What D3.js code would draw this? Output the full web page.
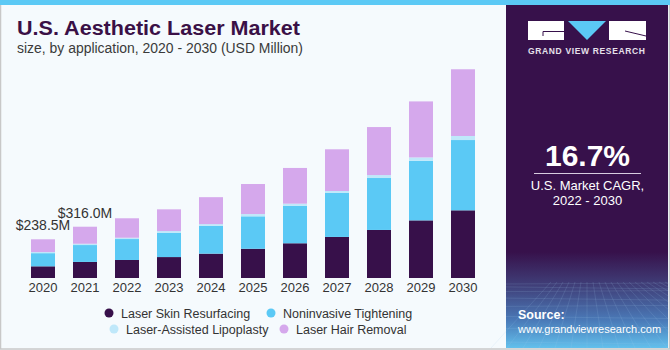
<!DOCTYPE html>
<html lang="en">
<head>
    <meta charset="UTF-8">
    <script src="https://d3js.org/d3.v7.min.js"></script>
    <style>
        body{ margin:0; }
        svg{ display:block; font-family:"Liberation Sans", Arial, sans-serif; }
    </style>
    <title>U.S. Aesthetic Laser Market</title>
</head>
<body>
    <div class="canvas"></div>
</body>
<script>
    // values (USD Million)
    const years = ['2020','2021','2022','2023','2024','2025','2026','2027','2028','2029','2030'];
    const skinResurfacing = [72, 99, 111, 129, 150, 180, 214, 253, 296, 355, 417];
    const noninvasiveTightening = [81, 104, 129, 150, 172, 200, 230, 271, 320, 367, 433];
    const lipoplasty = [7, 8, 8, 10, 10, 14, 14, 12, 18, 21, 25];
    const hairRemoval = [78.5, 105, 120, 134, 166, 185, 220, 257, 296, 345, 411];
    const seriesNames = ['Laser Skin Resurfacing','Noninvasive Tightening','Laser-Assisted Lipoplasty','Laser Hair Removal'];
    const callouts = [['2020','$238.5M'],['2021','$316.0M']];

    const width = 670;
    const height = 350;
    const colors = ['#37104a','#5bc9f5','#bfe8fa','#d5a8ec'];

    const svg = d3.select('.canvas')
                    .append('svg')
                    .attr('width',width)
                    .attr('height',height);

    // background + border
    svg.append('rect').attr('width',width).attr('height',height).attr('fill','#f5fafd');
    svg.append('rect').attr('x',0.5).attr('y',0.5).attr('width',width-1).attr('height',height-1.5)
        .attr('fill','none').attr('stroke','#c8c8c8').attr('stroke-width',1.5);
    svg.append('rect').attr('width',width).attr('height',5).attr('fill','#5bc9f5');

    // titles
    svg.append('text').attr('x',17).attr('y',35)
        .attr('font-size','20px').attr('font-weight','bold').attr('fill','#3a1046')
        .attr('textLength',283).attr('lengthAdjust','spacingAndGlyphs')
        .text('U.S. Aesthetic Laser Market');
    svg.append('text').attr('x',17).attr('y',53)
        .attr('font-size','14px').attr('fill','#3a3a3a')
        .attr('textLength',286).attr('lengthAdjust','spacingAndGlyphs')
        .text('size, by application, 2020 - 2030 (USD Million)');

    // chart
    const rows = years.map((yr,i)=>({
        year: yr,
        [seriesNames[0]]: skinResurfacing[i],
        [seriesNames[1]]: noninvasiveTightening[i],
        [seriesNames[2]]: lipoplasty[i],
        [seriesNames[3]]: hairRemoval[i]
    }));
    const stacked = d3.stack().keys(seriesNames)(rows);

    const x = d3.scaleBand()
                .domain(years)
                .range([22,484])
                .paddingInner(18/42)
                .paddingOuter(9/42);
    const y = d3.scaleLinear()
                .domain([0,1300])
                .range([278,67]);

    const layers = svg.append('g').selectAll('g')
                    .data(stacked)
                    .enter()
                    .append('g')
                    .attr('fill',(d,i)=>colors[i]);
    layers.selectAll('rect')
        .data(d=>d)
        .enter()
        .append('rect')
        .attr('x',d=>x(d.data.year))
        .attr('y',d=>y(d[1]))
        .attr('width',x.bandwidth())
        .attr('height',d=>y(d[0])-y(d[1]));

    const xAxisG = svg.append('g').attr('transform','translate(0,278)');
    xAxisG.call(d3.axisBottom(x).tickSize(0).tickPadding(5));
    xAxisG.select('.domain').remove();
    xAxisG.selectAll('text')
        .attr('font-size','13px')
        .attr('font-family','"Liberation Sans", Arial, sans-serif')
        .attr('fill','#333');

    // value call-outs
    const totals = rows.map(r=>d3.sum(seriesNames,k=>r[k]));
    svg.selectAll('.callout')
        .data(callouts)
        .enter()
        .append('text')
        .attr('class','callout')
        .attr('x',d=>x(d[0])+x.bandwidth()/2)
        .attr('y',d=>y(totals[years.indexOf(d[0])])-9)
        .attr('text-anchor','middle')
        .attr('font-size','14px')
        .attr('fill','#333')
        .text(d=>d[1]);

    // legend
    const legendPos = [[109,313],[271,313],[114,329],[284,329]];
    const legend = svg.append('g').selectAll('g')
                    .data(seriesNames)
                    .enter()
                    .append('g')
                    .attr('transform',(d,i)=>`translate(${legendPos[i][0]},${legendPos[i][1]})`);
    legend.append('circle').attr('r',4.5).attr('fill',(d,i)=>colors[i]);
    legend.append('text').attr('x',12).attr('y',4.5)
        .attr('font-size','12.5px').attr('fill','#333').text(d=>d);

    // right panel
    const panel = svg.append('g');
    const defs = svg.append('defs');
    const grad = defs.append('linearGradient').attr('id','pg').attr('x1',0).attr('y1',0).attr('x2',0).attr('y2',1);
    grad.append('stop').attr('offset','0%').attr('stop-color','#37114b');
    grad.append('stop').attr('offset','72%').attr('stop-color','#37114b');
    grad.append('stop').attr('offset','82%').attr('stop-color','#40407a');
    grad.append('stop').attr('offset','92%').attr('stop-color','#4a7ab8');
    grad.append('stop').attr('offset','100%').attr('stop-color','#62c0ec');
    panel.append('rect').attr('x',506).attr('y',5).attr('width',162).attr('height',343).attr('fill','url(#pg)');

    // faint grid on the bottom of the panel
    const grid = panel.append('g').attr('stroke','#9fc6ec').attr('stroke-opacity',0.25).attr('stroke-width',0.6).attr('fill','none');
    d3.range(0,9).forEach(i=>{
        const yy = 284 + i*i*0.9 + i*2;
        grid.append('line').attr('x1',506).attr('x2',668).attr('y1',yy).attr('y2',yy+ (i%2?2:-1));
    });
    d3.range(-6,14).forEach(i=>{
        const x0 = 587 + i*6;
        grid.append('line').attr('x1',x0).attr('y1',282).attr('x2',587 + i*16).attr('y2',348);
    });

    // logo
    const logo = panel.append('g');
    logo.append('rect').attr('x',528).attr('y',21).attr('width',36).attr('height',19).attr('fill','#fff');
    logo.append('path').attr('d','M543,36 V31.5 H564').attr('stroke','#37114b').attr('stroke-width',1).attr('fill','none');
    logo.append('path').attr('d','M568,21 L606,21 L587,40 Z').attr('fill','#5bc9f5');
    logo.append('rect').attr('x',609).attr('y',21).attr('width',37).attr('height',19).attr('fill','#fff');
    logo.append('path').attr('d','M625,31 L646,36').attr('stroke','#37114b').attr('stroke-width',1).attr('fill','none');
    logo.append('text').attr('x',528).attr('y',53.5)
        .attr('font-size','8.5px').attr('font-weight','bold').attr('fill','#e6e0ea')
        .attr('textLength',117).attr('lengthAdjust','spacing')
        .text('GRAND VIEW RESEARCH');

    panel.append('text').attr('x',587.5).attr('y',166)
        .attr('text-anchor','middle').attr('font-size','30px').attr('font-weight','bold').attr('fill','#fff')
        .text('16.7%');
    panel.append('line').attr('x1',534).attr('x2',641).attr('y1',173.5).attr('y2',173.5)
        .attr('stroke','#d8cde0').attr('stroke-width',1);
    panel.append('text').attr('x',587.5).attr('y',190)
        .attr('text-anchor','middle').attr('font-size','13px').attr('fill','#fff')
        .text('U.S. Market CAGR,');
    panel.append('text').attr('x',587.5).attr('y',205)
        .attr('text-anchor','middle').attr('font-size','13px').attr('fill','#fff')
        .text('2022 - 2030');
    panel.append('text').attr('x',518).attr('y',319)
        .attr('font-size','12.5px').attr('font-weight','bold').attr('fill','#fff')
        .text('Source:');
    panel.append('text').attr('x',518).attr('y',333)
        .attr('font-size','11px').attr('fill','#fff')
        .text('www.grandviewresearch.com');
</script>
</html>
